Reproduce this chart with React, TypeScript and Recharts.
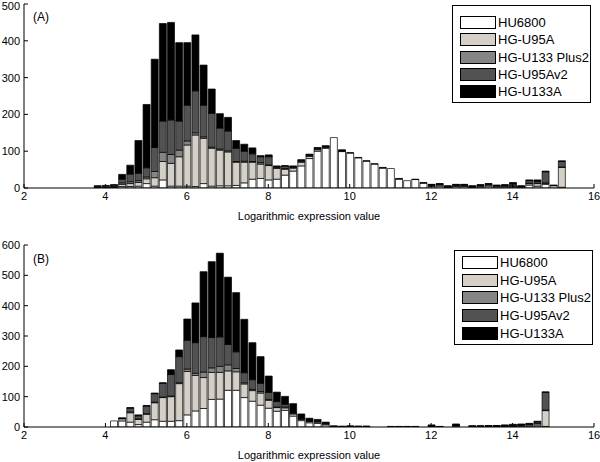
import { BarChart, Bar, XAxis, YAxis, Legend } from 'recharts';

// bin centres (bin width 0.2)
const topBins = [
  3.8, 4.0, 4.2, 4.4, 4.6, 4.8, 5.0, 5.2, 5.4, 5.6,
  5.8, 6.0, 6.2, 6.4, 6.6, 6.8, 7.0, 7.2, 7.4, 7.6,
  7.8, 8.0, 8.2, 8.4, 8.6, 8.8, 9.0, 9.2, 9.4, 9.6,
  9.8, 10.0, 10.2, 10.4, 10.6, 10.8, 11.0, 11.2, 11.4, 11.6,
  11.8, 12.0, 12.2, 12.4, 12.6, 12.8, 13.0, 13.2, 13.4, 13.6,
  13.8, 14.0, 14.2, 14.4, 14.6, 14.8, 15.0, 15.2,
];
const topHU6800 = [
  0, 0, 1, 4, 4, 5, 12, 5, 22, 5,
  5, 5, 4, 12, 5, 6, 6, 7, 14, 24,
  26, 22, 24, 35, 46, 60, 80, 100, 108, 137,
  99, 95, 82, 73, 65, 54, 53, 24, 20, 23,
  13, 4, 5, 2, 4, 4, 2, 3, 5, 3,
  3, 3, 2, 8, 5, 10, 6, 2,
];
const topU95A = [
  1, 1, 2, 6, 8, 10, 13, 23, 50, 62,
  80, 112, 140, 123, 103, 97, 92, 63, 56, 46,
  39, 39, 29, 16, 8, 10, 6, 4, 2, 0,
  1, 0, 0, 0, 0, 0, 0, 0, 0, 0,
  0, 2, 3, 1, 2, 2, 1, 2, 3, 2,
  2, 2, 1, 4, 7, 3, 1, 54,
];
const topU133Plus2 = [
  1, 1, 1, 4, 5, 5, 5, 17, 25, 24,
  18, 11, 6, 4, 3, 3, 3, 2, 3, 2,
  4, 2, 3, 2, 2, 2, 2, 2, 2, 0,
  1, 0, 0, 0, 1, 0, 0, 0, 0, 0,
  0, 2, 2, 1, 2, 1, 1, 2, 2, 1,
  1, 1, 1, 1, 1, 1, 0, 1,
];
const topU95Av2 = [
  3, 4, 4, 10, 21, 20, 25, 65, 85, 94,
  79, 97, 114, 86, 92, 57, 54, 36, 27, 21,
  16, 22, 2, 6, 2, 3, 2, 2, 1, 0,
  0, 0, 0, 0, 0, 0, 0, 0, 0, 0,
  0, 1, 1, 1, 1, 2, 1, 1, 1, 1,
  2, 5, 1, 7, 5, 30, 1, 15,
];
const topU133A = [
  1, 1, 1, 13, 24, 89, 172, 240, 265, 265,
  213, 170, 152, 109, 66, 39, 37, 21, 19, 16,
  3, 5, 2, 2, 2, 2, 2, 2, 2, 0,
  3, 1, 1, 1, 0, 2, 0, 2, 0, 1,
  2, 1, 1, 1, 1, 1, 1, 1, 1, 1,
  1, 4, 1, 2, 4, 2, 0, 2,
];

const bottomBins = [
  4.2, 4.4, 4.6, 4.8, 5.0, 5.2, 5.4, 5.6, 5.8, 6.0,
  6.2, 6.4, 6.6, 6.8, 7.0, 7.2, 7.4, 7.6, 7.8, 8.0,
  8.2, 8.4, 8.6, 8.8, 9.0, 9.2, 9.4, 9.6, 9.8, 10.0,
  10.2, 10.4, 10.6, 10.8, 11.0, 11.2, 11.4, 11.6, 11.8, 12.0,
  12.2, 12.4, 12.6, 12.8, 13.0, 13.2, 13.4, 13.6, 13.8, 14.0,
  14.2, 14.4, 14.6, 14.8,
];
const bottomHU6800 = [
  20, 20, 16, 8, 16, 24, 19, 19, 21, 40,
  53, 61, 91, 92, 121, 121, 97, 85, 72, 62,
  52, 55, 36, 21, 14, 12, 7, 0, 0, 0,
  1, 1, 0, 0, 1, 1, 1, 1, 0, 1,
  0, 0, 3, 0, 1, 1, 1, 1, 1, 2,
  2, 3, 4, 2,
];
const bottomU95A = [
  0, 7, 31, 17, 26, 56, 78, 81, 122, 143,
  117, 102, 89, 88, 64, 61, 45, 35, 40, 26,
  12, 8, 7, 4, 4, 4, 3, 1, 0, 1,
  1, 1, 0, 0, 0, 0, 0, 0, 0, 0,
  1, 0, 1, 0, 1, 1, 1, 1, 2, 1,
  3, 4, 6, 52,
];
const bottomU133Plus2 = [
  0, 1, 3, 2, 2, 2, 2, 2, 3, 8,
  7, 18, 15, 20, 20, 11, 4, 4, 5, 3,
  2, 3, 2, 2, 2, 2, 1, 0, 1, 0,
  0, 0, 0, 0, 0, 0, 0, 0, 0, 1,
  0, 0, 1, 0, 0, 0, 1, 1, 1, 1,
  1, 1, 2, 2,
];
const bottomU95Av2 = [
  0, 1, 12, 10, 25, 28, 45, 71, 86, 95,
  101, 117, 100, 97, 67, 55, 33, 32, 27, 23,
  18, 9, 2, 2, 2, 3, 2, 1, 0, 1,
  1, 0, 0, 0, 1, 1, 1, 1, 0, 1,
  0, 0, 1, 0, 1, 1, 1, 1, 1, 2,
  2, 2, 5, 58,
];
const bottomU133A = [
  0, 1, 2, 3, 2, 2, 2, 16, 22, 70,
  131, 214, 250, 276, 222, 195, 176, 122, 88, 54,
  31, 26, 30, 14, 7, 4, 3, 2, 2, 2,
  0, 1, 0, 0, 0, 0, 0, 0, 0, 4,
  1, 0, 4, 0, 1, 1, 1, 1, 2, 3,
  2, 2, 2, 2,
];

const xTicks = [2, 4, 6, 8, 10, 12, 14, 16];
const topYTicks = [0, 100, 200, 300, 400, 500];
const bottomYTicks = [0, 100, 200, 300, 400, 500, 600];

const series = [
  { key: 'hu6800', name: 'HU6800', color: '#ffffff' },
  { key: 'u95a', name: 'HG-U95A', color: '#d4d0c8' },
  { key: 'u133p2', name: 'HG-U133 Plus2', color: '#858585' },
  { key: 'u95av2', name: 'HG-U95Av2', color: '#525252' },
  { key: 'u133a', name: 'HG-U133A', color: '#000000' },
];

const buildRows = (bins: number[], cols: number[][]) =>
  bins.map((x, i) => ({
    x,
    hu6800: cols[0][i],
    u95a: cols[1][i],
    u133p2: cols[2][i],
    u95av2: cols[3][i],
    u133a: cols[4][i],
  }));

const topData = buildRows(topBins, [topHU6800, topU95A, topU133Plus2, topU95Av2, topU133A]);
const bottomData = buildRows(bottomBins, [bottomHU6800, bottomU95A, bottomU133Plus2, bottomU95Av2, bottomU133A]);

const font = '"Liberation Sans", Arial, sans-serif';
const tickStyle = { fontSize: 11, fill: '#000', fontFamily: font };

function LegendBox({ padTop, rowH }: { padTop: number; rowH: number }) {
  return (
    <div
      style={{
        border: '1px solid #000',
        background: '#fff',
        width: 137,
        paddingTop: padTop,
        paddingBottom: 2,
        fontFamily: font,
      }}
    >
      {series.map((s) => (
        <div key={s.key} style={{ display: 'flex', alignItems: 'center', height: rowH }}>
          <div
            style={{
              width: 34,
              height: 11,
              marginLeft: 7,
              background: s.color,
              border: '1px solid #000',
            }}
          />
          <span style={{ marginLeft: 2, fontSize: 13, lineHeight: '13px', color: '#000' }}>{s.name}</span>
        </div>
      ))}
    </div>
  );
}

interface PanelProps {
  data: ReturnType<typeof buildRows>;
  top: number;
  height: number;
  marginTop: number;
  axisHeight: number;
  labelOffset: number;
  yMax: number;
  yTicks: number[];
  tag: string;
  tagTop: number;
  legendLeft: number;
  legendTop: number;
  legendPad: number;
  legendRow: number;
}

function Panel(p: PanelProps) {
  return (
    <div style={{ position: 'absolute', left: 0, top: p.top, width: 600, height: p.height }}>
      <BarChart
        width={600}
        height={p.height}
        data={p.data}
        margin={{ top: p.marginTop, right: 6, bottom: 0, left: 0 }}
        style={{ fontFamily: font }}
      >
        <XAxis
          dataKey="x"
          type="number"
          domain={[2, 16]}
          ticks={xTicks}
          allowDataOverflow
          height={p.axisHeight}
          tick={tickStyle}
          tickSize={-4}
          tickMargin={8}
          stroke="#000"
          label={{
            value: 'Logarithmic expression value',
            position: 'insideBottom',
            offset: p.labelOffset,
            fontSize: 11,
            fill: '#000',
            fontFamily: font,
          }}
        />
        <XAxis
          xAxisId="top"
          orientation="top"
          dataKey="x"
          type="number"
          domain={[2, 16]}
          ticks={xTicks}
          allowDataOverflow
          height={0}
          tick={false}
          tickSize={-4}
          stroke="#000"
        />
        <YAxis
          type="number"
          domain={[0, p.yMax]}
          ticks={p.yTicks}
          allowDataOverflow
          width={24}
          tick={tickStyle}
          tickSize={-4}
          tickMargin={8}
          stroke="#000"
        />
        <YAxis
          yAxisId="right"
          orientation="right"
          type="number"
          domain={[0, p.yMax]}
          ticks={p.yTicks}
          width={0}
          tick={false}
          tickSize={-4}
          stroke="#000"
        />
        {series.map((s) => (
          <Bar
            key={s.key}
            dataKey={s.key}
            name={s.name}
            stackId="a"
            fill={s.color}
            stroke="#000"
            strokeWidth={0.7}
            barSize={7}
            isAnimationActive={false}
          />
        ))}
        <Legend
          layout="vertical"
          align="center"
          verticalAlign="middle"
          wrapperStyle={{ left: p.legendLeft, top: p.legendTop, width: 139 }}
          content={() => <LegendBox padTop={p.legendPad} rowH={p.legendRow} />}
        />
      </BarChart>
      <div
        style={{
          position: 'absolute',
          left: 33,
          top: p.tagTop,
          fontSize: 12,
          fontFamily: font,
          color: '#000',
          lineHeight: '12px',
        }}
      >
        {p.tag}
      </div>
    </div>
  );
}

export default function App() {
  return (
    <div style={{ position: 'absolute', left: 0, top: 0, width: 600, height: 462, background: '#fff' }}>
      <Panel
        data={topData}
        top={0}
        height={230}
        marginTop={4}
        axisHeight={42}
        labelOffset={10}
        yMax={500}
        yTicks={topYTicks}
        tag="(A)"
        tagTop={11}
        legendLeft={452}
        legendTop={5}
        legendPad={8}
        legendRow={17.3}
      />
      <Panel
        data={bottomData}
        top={230}
        height={232}
        marginTop={15}
        axisHeight={35}
        labelOffset={3}
        yMax={600}
        yTicks={bottomYTicks}
        tag="(B)"
        tagTop={23}
        legendLeft={454}
        legendTop={20}
        legendPad={3}
        legendRow={17.6}
      />
    </div>
  );
}
